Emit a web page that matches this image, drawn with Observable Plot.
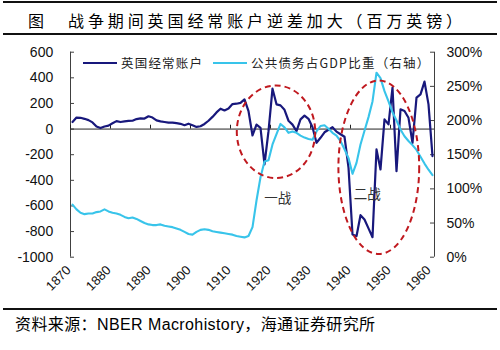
<!DOCTYPE html>
<html>
<head>
<meta charset="utf-8">
<script src="https://cdn.jsdelivr.net/npm/d3@7"></script>
<script src="https://cdn.jsdelivr.net/npm/@observablehq/plot@0.6"></script>
<style>
  body { margin: 0; background: #fff; }
  #wrap { position: relative; width: 500px; height: 350px; overflow: hidden; background: #fff; font-family: "Noto Sans CJK SC", sans-serif; color: #000; }
  .rule { position: absolute; left: 3px; width: 494px; height: 1.5px; background: #111; }
  .abs { position: absolute; white-space: nowrap; }
</style>
</head>
<body>
<div id="wrap">
  <div class="rule" style="top:1px"></div>
  <div class="abs" style="left:28px;top:10px;font-size:16px;line-height:20px;">图</div>
  <div class="abs" style="left:68px;top:10px;font-size:16px;line-height:20px;letter-spacing:3.9px;">战争期间英国经常账户逆差加大（百万英镑）</div>
  <div class="rule" style="top:33px"></div>
  <div id="chart" class="abs" style="left:0;top:36px;"></div>
  <div id="legend"></div>
  <div class="rule" style="top:308px"></div>
  <div class="abs" style="left:15px;top:315px;font-size:16px;line-height:20px;letter-spacing:0.4px;font-family:'Liberation Sans','Noto Sans CJK SC',sans-serif;">资料来源：NBER Macrohistory，海通证券研究所</div>
</div>
<script>
// ---- data ----
const firstYear = 1870;
const currentAccount = [
  55, 90, 88, 80, 70, 52, 20, 8, 20, 27,          // 1870-1879
  45, 62, 55, 60, 64, 65, 78, 84, 82, 100,        // 1880-1889
  90, 68, 60, 55, 50, 51, 46, 41, 30, 42,         // 1890-1899
  30, 17, 22, 40, 65, 95, 130, 159, 145, 160,     // 1900-1909
  195, 198, 205, 232, 140, -50, 35, 10, -275, -16,// 1910-1919
  315, 193, 185, 150, 65, 35, -16, 76, 105, 80,   // 1920-1929
  15, -107, -68, -25, -5, 15, -20, -40, -60, -300,// 1930-1939
  -823, -836, -672, -706, -775, -844, -159, -315, 76, 37, // 1940-1949
  323, -328, 154, 141, 88, -107, 245, 271, 370, 193,      // 1950-1959
  -211                                            // 1960
];
const debtToGDP = [
  77, 70, 65, 63, 64, 64, 66, 67, 70, 67,         // 1870-1879
  65, 64, 62, 59, 57, 58, 56, 53, 50, 48,         // 1880-1889
  47, 47, 48, 46, 45, 44, 42, 40, 37, 34,         // 1890-1899
  33, 37, 40, 41, 40, 38, 37, 36, 35, 34,         // 1900-1909
  33, 31, 30, 29, 31, 44, 83, 117, 140, 142,      // 1910-1919
  165, 180, 195, 190, 182, 184, 182, 178, 175, 173, // 1920-1929
  172, 184, 192, 193, 188, 182, 178, 170, 158, 145, // 1930-1939
  122, 138, 165, 185, 205, 228, 270, 262, 243, 228, // 1940-1949
  212, 200, 187, 177, 170, 164, 157, 147, 137, 128, // 1950-1959
  120                                             // 1960
];
const xTickLabels = [1870, 1880, 1890, 1900, 1910, 1920, 1930, 1940, 1950, 1960];
const leftTicks = [600, 400, 200, 0, -200, -400, -600, -800, -1000];
const rightTicks = [300, 250, 200, 150, 100, 50, 0];
const seriesNames = ["英国经常账户", "公共债务占GDP比重（右轴）"];
const seriesColors = ["#18187c", "#38c4ea"];
const warLabels = [
  {year: 1921.3, value: -540, text: "一战"},
  {year: 1943.7, value: -515, text: "二战"}
];
const warEllipses = [
  {year: 1921, value: -25, ry: 361, rx: 9.8},
  {year: 1946.7, value: -302, ry: 677, rx: 10.1}
];

// ---- build ----
const years = currentAccount.map((_, i) => firstYear + i);
const rows = years.map((y, i) => ({year: y, ca: currentAccount[i], debt: debtToGDP[i]}));
const leftMin = -1000, leftMax = 600, rightMin = 0, rightMax = 300;
const toLeft = r => leftMin + (r - rightMin) * (leftMax - leftMin) / (rightMax - rightMin);
const xMin = firstYear - 0.5, xMax = years[years.length - 1] + 0.5;
const decadeBounds = xTickLabels.map(d => d - 0.5);

const numFont = "'Liberation Sans', Arial, sans-serif";
const cjkFont = "'Noto Sans CJK SC', sans-serif";

const ellipseMark = (index, scales) => {
  const g = d3.create("svg:g");
  for (const e of warEllipses) {
    const cx = scales.x(e.year), cy = scales.y(e.value);
    g.append("ellipse")
      .attr("cx", cx).attr("cy", cy)
      .attr("rx", Math.abs(scales.x(e.year + e.rx) - cx))
      .attr("ry", Math.abs(scales.y(e.value + e.ry) - cy))
      .attr("fill", "none")
      .attr("stroke", "#c0191f")
      .attr("stroke-width", 2)
      .attr("stroke-dasharray", "6,4");
  }
  return g.node();
};

const chart = Plot.plot({
  width: 500,
  height: 272,
  marginLeft: 70,
  marginRight: 66,
  marginTop: 15.7,
  marginBottom: 51.3,
  x: {domain: [xMin, xMax], axis: null},
  y: {domain: [leftMin, leftMax], axis: null},
  style: {fontFamily: numFont, fontSize: "14px", color: "#000", background: "transparent", overflow: "visible"},
  marks: [
    // axes lines
    Plot.ruleX([xMin], {y1: leftMin, y2: leftMax, stroke: "#404040", strokeWidth: 1}),
    Plot.ruleX([xMax], {y1: leftMin, y2: leftMax, stroke: "#404040", strokeWidth: 1}),
    Plot.ruleY(leftTicks, {y: d => d, x1: xMin, x2: xMin + 1, stroke: "#404040"}),
    Plot.ruleY(rightTicks, {y: d => toLeft(d), x1: xMax - 1, x2: xMax, stroke: "#404040"}),
    Plot.ruleY([0], {x1: xMin, x2: xMax, stroke: "#222", strokeWidth: 1}),
    Plot.ruleX(decadeBounds, {x: d => d, y1: 0, y2: 30, stroke: "#222"}),
    // tick labels
    Plot.text(leftTicks, {y: d => d, frameAnchor: "left", dx: -17.3, textAnchor: "end", text: d => String(d), fontSize: 14, fill: "#111"}),
    Plot.text(rightTicks, {y: d => toLeft(d), frameAnchor: "right", dx: 12, textAnchor: "start", text: d => d + "%", fontSize: 14, fill: "#111"}),
    Plot.text(xTickLabels, {x: d => d, frameAnchor: "bottom", dx: -11, dy: 24, rotate: -45, text: d => String(d), fontSize: 13, fill: "#111"}),
    // series
    Plot.line(rows, {x: "year", y: "ca", stroke: seriesColors[0], strokeWidth: 2.2}),
    Plot.line(rows, {x: "year", y: d => toLeft(d.debt), stroke: seriesColors[1], strokeWidth: 2.1}),
    // annotations
    ellipseMark,
    Plot.text(warLabels, {x: "year", y: "value", text: "text", fontFamily: cjkFont, fontSize: 13.5, fill: "#333"})
  ]
});
document.getElementById("chart").appendChild(chart);

// legend (inside plot area)
const legend = document.getElementById("legend");
const legendPos = [{line: 83, text: 121}, {line: 213, text: 251}];
seriesNames.forEach((name, i) => {
  const ln = document.createElement("div");
  ln.className = "abs";
  ln.style.cssText = `left:${legendPos[i].line}px;top:61.6px;width:34px;height:2.2px;background:${seriesColors[i]};`;
  legend.appendChild(ln);
  const tx = document.createElement("div");
  tx.className = "abs";
  tx.style.cssText = `left:${legendPos[i].text}px;top:53px;line-height:20px;font-size:12.5px;letter-spacing:1.2px;color:#222;font-family:'Noto Sans CJK SC','Liberation Sans',sans-serif;`;
  tx.textContent = name;
  legend.appendChild(tx);
});
</script>
</body>
</html>
